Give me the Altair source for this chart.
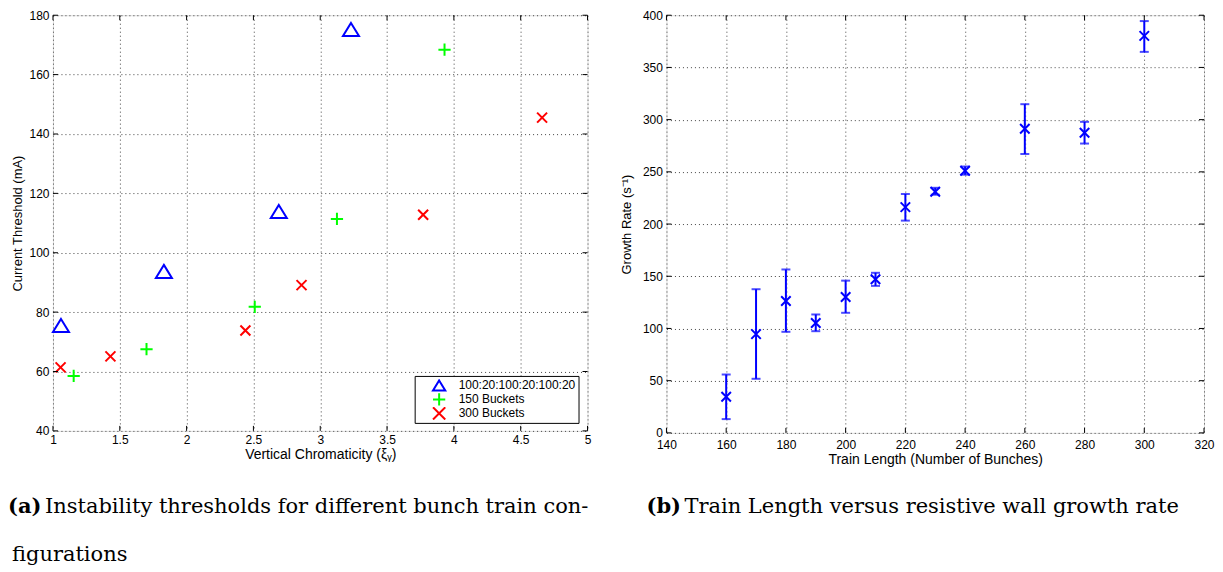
import altair as alt
import pandas as pd

# ---------------- data: panel (a) ----------------
series_names = ["100:20:100:20:100:20", "150 Buckets", "300 Buckets"]
series_colors = ["#0000ff", "#00ff00", "#ff0000"]

tri_x = [1.06, 1.83, 2.69, 3.23]
tri_y = [75.5, 93.7, 113.9, 175.2]
plus_x = [1.155, 1.70, 2.51, 3.125, 3.93]
plus_y = [58.5, 67.5, 81.8, 111.4, 168.4]
cross_x = [1.057, 1.43, 2.44, 2.86, 3.77, 4.66]
cross_y = [61.4, 65.1, 73.8, 89.1, 112.8, 145.5]

left_xticks = [1, 1.5, 2, 2.5, 3, 3.5, 4, 4.5, 5]
left_yticks = [40, 60, 80, 100, 120, 140, 160, 180]

# ---------------- data: panel (b) ----------------
train = [160, 170, 180, 190, 200, 210, 220, 230, 240, 260, 280, 300]
rate = [34.6, 94.6, 126.3, 105.3, 130.1, 147.1, 216.2, 231.0, 251.0, 291.3, 287.5, 380.2]
rate_lo = [13.2, 51.8, 96.8, 97.4, 115.0, 140.8, 203.3, 228.1, 247.3, 267.1, 277.1, 364.9]
rate_hi = [55.9, 137.6, 156.5, 113.4, 145.8, 153.3, 228.8, 234.7, 255.1, 314.8, 297.9, 394.4]

right_xticks = [140, 160, 180, 200, 220, 240, 260, 280, 300, 320]
right_yticks = [0, 50, 100, 150, 200, 250, 300, 350, 400]

# ---------------- captions ----------------
cap_a_tag = "(a)"
cap_a_line1 = "Instability thresholds for different bunch train con-"
cap_a_line2 = "figurations"
cap_b_tag = "(b)"
cap_b_line1 = "Train Length versus resistive wall growth rate"

# ---------------- styling ----------------
FONT = "Liberation Sans"
SERIF = "DejaVu Serif"
BLUE = "#0000ff"
TRI = "M0,-0.82L1,0.82L-1,0.82Z"
PLUS = "M-1,0L1,0M0,-1L0,1"
XMARK = "M-1,-1L1,1M-1,1L1,-1"
series_shapes = [TRI, PLUS, XMARK]
series_sizes = [256, 150, 100]

WL, HL = 535, 416
WR, HR = 538, 418


def mk_axis(values, title, title_pad, title_size, label_pad=4):
    return alt.Axis(
        values=values, title=title, labelExpr="'' + datum.value", grid=True, ticks=False,
        domain=False, labelPadding=label_pad, titlePadding=title_pad, labelFont=FONT,
        labelFontSize=12, labelColor="black", titleFont=FONT, titleFontSize=title_size,
        titleFontWeight="normal", titleColor="black", gridColor="#444",
        gridDash=[1, 3], gridWidth=1, labelFlush=False, labelOverlap=False,
    )


axLx = mk_axis(left_xticks, "Vertical Chromaticity (ξᵧ)", 2, 14)
axLy = mk_axis(left_yticks, "Current Threshold (mA)", 4, 13)
axRx = mk_axis(right_xticks, "Train Length (Number of Bunches)", 2, 14, label_pad=7)
axRy = mk_axis(right_yticks, "Growth Rate (s⁻¹)", 9, 13)


def inward_ticks(xvals, yvals, xscale, yscale, xaxis, yaxis, W, H):
    dx = pd.DataFrame({"v": xvals})
    dy = pd.DataFrame({"v": yvals})
    X = alt.X("v:Q", scale=xscale, axis=xaxis)
    Y = alt.Y("v:Q", scale=yscale, axis=yaxis)
    return [
        alt.Chart(dx).mark_rule(color="black", strokeWidth=1).encode(x=X, y=alt.value(H), y2=alt.value(H - 5)),
        alt.Chart(dx).mark_rule(color="black", strokeWidth=1).encode(x=X, y=alt.value(0), y2=alt.value(5)),
        alt.Chart(dy).mark_rule(color="black", strokeWidth=1).encode(y=Y, x=alt.value(0), x2=alt.value(5)),
        alt.Chart(dy).mark_rule(color="black", strokeWidth=1).encode(y=Y, x=alt.value(W), x2=alt.value(W - 5)),
    ]


# ---------------- panel (a) ----------------
xsL = alt.Scale(domain=[1, 5], nice=False, zero=False)
ysL = alt.Scale(domain=[40, 180], nice=False, zero=False)

leg = alt.Legend(
    title=None, orient="none", legendX=362, legendY=HL - 55, fillColor="white",
    strokeColor="black", padding=3, symbolOffset=14, symbolSize=150,
    symbolStrokeWidth=2, labelFontSize=12, labelFont=FONT, labelColor="black",
    rowPadding=1, clipHeight=13, labelOffset=12, cornerRadius=0,
)
color_sc = alt.Scale(domain=series_names, range=series_colors)
shape_sc = alt.Scale(domain=series_names, range=series_shapes)

series_xy = [(tri_x, tri_y), (plus_x, plus_y), (cross_x, cross_y)]
point_layers = []
for name, (xs, ys), sz in zip(series_names, series_xy, series_sizes):
    df = pd.DataFrame({"x": xs, "y": ys, "s": name})
    point_layers.append(
        alt.Chart(df).mark_point(filled=False, strokeWidth=2, opacity=1, size=sz).encode(
            x=alt.X("x:Q", scale=xsL, axis=axLx),
            y=alt.Y("y:Q", scale=ysL, axis=axLy),
            color=alt.Color("s:N", scale=color_sc, legend=leg),
            shape=alt.Shape("s:N", scale=shape_sc, legend=leg),
        )
    )

left = alt.layer(*point_layers, *inward_ticks(left_xticks, left_yticks, xsL, ysL, axLx, axLy, WL, HL)).properties(
    width=WL, height=HL
)

# ---------------- panel (b) ----------------
right_df = pd.DataFrame({"t": train, "r": rate, "lo": rate_lo, "hi": rate_hi})
xsR = alt.Scale(domain=[140, 320], nice=False, zero=False)
ysR = alt.Scale(domain=[0, 400], nice=False, zero=False)

XR = alt.X("t:Q", scale=xsR, axis=axRx)

base = alt.Chart(right_df)
bars = base.mark_rule(color=BLUE, strokeWidth=2).encode(
    x=XR, y=alt.Y("lo:Q", scale=ysR, axis=axRy), y2="hi:Q"
)
cap_hi = base.mark_tick(color=BLUE, thickness=2, size=9, orient="horizontal").encode(
    x=XR, y=alt.Y("hi:Q", scale=ysR, axis=axRy)
)
cap_lo = base.mark_tick(color=BLUE, thickness=2, size=9, orient="horizontal").encode(
    x=XR, y=alt.Y("lo:Q", scale=ysR, axis=axRy)
)
pts = base.mark_point(shape=XMARK, filled=False, strokeWidth=2, size=90, color=BLUE, opacity=1).encode(
    x=XR, y=alt.Y("r:Q", scale=ysR, axis=axRy)
)

right = alt.layer(bars, cap_hi, cap_lo, pts,
                  *inward_ticks(right_xticks, right_yticks, xsR, ysR, axRx, axRy, WR, HR)).properties(
    width=WR, height=HR
)

# ---------------- captions row ----------------
cdf = pd.DataFrame({"k": [0]})


def cap_text(txt, x, y, bold=False):
    return alt.Chart(cdf).mark_text(
        align="left", baseline="alphabetic", font=SERIF, fontSize=21,
        fontWeight="bold" if bold else "normal", color="black",
    ).encode(x=alt.value(x), y=alt.value(y), text=alt.value(txt))


captions = alt.layer(
    cap_text(cap_a_tag, -45, 25, True),
    cap_text(cap_a_line1, -8, 25),
    cap_text(cap_a_line2, -41, 73),
    cap_text(cap_b_tag, 594, 25, True),
    cap_text(cap_b_line1, 632, 25),
).properties(width=1100, height=80, view=alt.ViewBackground(stroke=None))

chart = alt.vconcat(
    alt.hconcat(left, right, spacing=28),
    captions,
    spacing=20,
).properties(
    padding={"left": 0, "top": 0, "right": 0, "bottom": 0}
).configure_view(stroke="black", strokeWidth=1).configure(background="white")

chart.save("out.html", embed_options={"renderer": "svg", "actions": False})
